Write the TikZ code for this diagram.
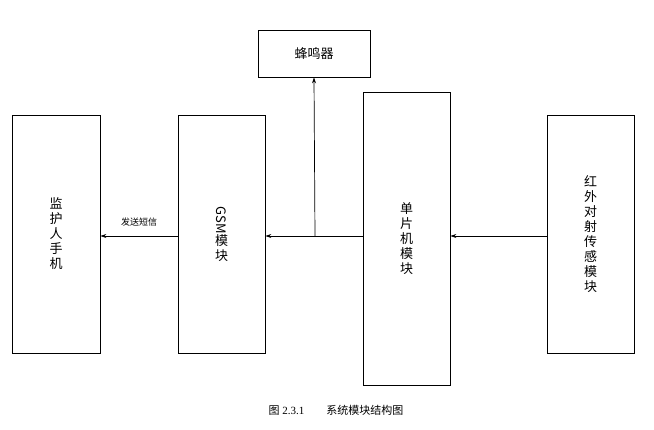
\documentclass[tikz,border=0pt]{standalone}
\usepackage{fontspec}
\setmainfont{Liberation Serif}
\newfontfamily\cjk{Noto Sans CJK SC}
\usetikzlibrary{arrows.meta}
\begin{document}
\begin{tikzpicture}[x=1pt,y=-1pt,
 box/.style={draw,line width=0.8pt,inner sep=0},
 lbl/.style={font=\cjk\fontsize{13}{15}\selectfont,align=center},
 arr/.style={-{Stealth[length=6pt,width=4pt]},line width=0.7pt}]
\useasboundingbox (0,0) rectangle (654,429);
\node[box,minimum width=112pt,minimum height=47pt] (buz) at (314,53.5) {};
\node[lbl] at (buz) {蜂鸣器};
\node[box,minimum width=88pt,minimum height=238pt] (ph) at (56,234) {};
\node[lbl] at (ph) {监\\护\\人\\手\\机};
\node[box,minimum width=87pt,minimum height=238pt] (gsm) at (221.5,234) {};
\node[lbl] at (gsm) {\rotatebox{-90}{GSM}\\模\\块};
\node[box,minimum width=87pt,minimum height=293pt] (mcu) at (406.5,238.5) {};
\node[lbl] at (mcu) {单\\片\\机\\模\\块};
\node[box,minimum width=87pt,minimum height=238pt] (ir) at (590.5,234) {};
\node[lbl] at (ir) {红\\外\\对\\射\\传\\感\\模\\块};
\coordinate (j) at (315,236);
\draw[arr] (ir.west |- 0,236) -- (mcu.east |- 0,236);
\draw[arr] (mcu.west |- 0,236) -- (gsm.east |- 0,236);
\draw[arr] (j) -- (buz.south);
\draw[arr] (gsm.west |- 0,236) -- node[above=6pt,font=\cjk\fontsize{9}{11}\selectfont] (t) {发送短信} (ph.east |- 0,236);
\node (cap) at (336,410) {\fontsize{11}{13}\selectfont {\cjk 图} 2.3.1\hspace{2em}{\cjk 系统模块结构图}};
\end{tikzpicture}
\end{document}
